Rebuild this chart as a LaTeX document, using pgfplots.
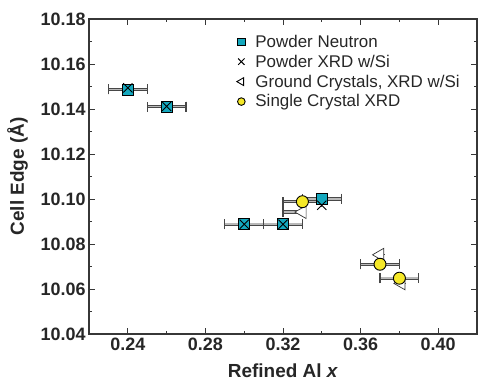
\documentclass[border=0pt]{standalone}
\usepackage{fontspec}
\setmainfont{Liberation Sans}
\usepackage{pgfplots}
\pgfplotsset{compat=1.18}
\definecolor{teal2}{RGB}{20,168,190}
\definecolor{yel}{RGB}{245,232,40}
\definecolor{axgray}{RGB}{55,55,55}
\pgfplotstableread{
x y ex
0.24 10.1487 0.01
0.26 10.1410 0.01
0.30 10.0888 0.01
0.32 10.0888 0.01
0.34 10.1000 0.01
}\neutron
\pgfplotstableread{
x y ex
0.330 10.0988 0.01
0.370 10.0710 0.01
0.380 10.0648 0.01
}\single
\pgfplotstableread{
x y exm
0.330 10.0942 0.01
0.370 10.0752 0.0
0.381 10.0625 0.0
}\ground
\pgfplotstableread{
x y
0.24 10.1494
0.26 10.1412
0.30 10.0888
0.32 10.0888
0.34 10.0972
}\xrd
\begin{document}
\begin{tikzpicture}
\path[use as bounding box] (-89bp,-48bp) rectangle (389bp,334bp);
\begin{axis}[
  at={(0,0)}, anchor=south west,
  scale only axis, width=388bp, height=315bp,
  xmin=0.22, xmax=0.42, ymin=10.04, ymax=10.18,
  xtick={0.24,0.28,0.32,0.36,0.40},
  ytick={10.04,10.06,10.08,10.10,10.12,10.14,10.16,10.18},
  minor tick num=1,
  tick align=inside,
  major tick length=6bp, minor tick length=3.5bp,
  axis line style={axgray, line width=1.1pt},
  every tick/.style={axgray, line width=1pt},
  xticklabel style={/pgf/number format/fixed, /pgf/number format/fixed zerofill, /pgf/number format/precision=2},
  yticklabel style={/pgf/number format/fixed, /pgf/number format/fixed zerofill, /pgf/number format/precision=2},
  /pgf/number format/assume math mode=true,
  ticklabel style={font=\fontsize{18}{20}\selectfont\bfseries, text=black!85},
  xlabel={Refined Al \textit{x}},
  ylabel={Cell Edge (Å)},
  xlabel shift=7bp, ylabel shift=6bp,
  label style={font=\fontsize{19}{22}\selectfont\bfseries, text=black!85},
  legend style={at={(0.362,0.963)}, anchor=north west, draw=none, fill=none,
    font=\fontsize{17}{20}\selectfont, row sep=2.2bp, text=black!85},
  legend cell align=left,
  lgimg/.style={only marks, legend image code/.code={\path (0cm,0cm) (0.72cm,0cm); \draw[##1] plot coordinates {(0.3cm,0cm)};}},
  ebdark/.style={forget plot, draw=none, mark=none, error bars/.cd, x dir=both, x explicit,
    error bar style={draw=black!72, line width=3.4pt, solid},
    error mark=|,
    error mark options={draw=black!72, line width=1.3pt, mark size=5bp}},
  eblight/.style={forget plot, draw=none, mark=none, error bars/.cd, x dir=both, x explicit,
    error bar style={draw=gray!55, line width=1.5pt, solid},
    error mark=|,
    error mark options={draw=black!72, line width=1.3pt, mark size=5bp}},
]
% legend entries
\addlegendimage{lgimg, mark=square*, mark size=3.8bp, mark options={fill=teal2, draw=black, line width=0.7pt}}
\addlegendentry{Powder Neutron}
\addlegendimage{lgimg, mark=x, mark size=4.5bp, mark options={draw=black, line width=1pt}}
\addlegendentry{Powder XRD w/Si}
\addlegendimage{lgimg, mark=triangle, mark size=4.5bp, mark options={rotate=90, draw=black, line width=0.9pt}}
\addlegendentry{Ground Crystals, XRD w/Si}
\addlegendimage{lgimg, mark=*, mark size=3.8bp, mark options={fill=yel, draw=black, line width=0.9pt}}
\addlegendentry{Single Crystal XRD}

% error bars: dark outline then light core
\addplot[ebdark] table[x=x, y=y, x error=ex] {\neutron};
\addplot[ebdark] table[x=x, y=y, x error=ex] {\single};
\addplot[forget plot, draw=none, mark=none, error bars/.cd, x dir=minus, x explicit,
    error bar style={draw=black!72, line width=3.4pt, solid}, error mark=|,
    error mark options={draw=black!72, line width=1.3pt, mark size=5bp}]
  table[x=x, y=y, x error=exm] {\ground};
\addplot[eblight] table[x=x, y=y, x error=ex] {\neutron};
\addplot[eblight] table[x=x, y=y, x error=ex] {\single};
\addplot[forget plot, draw=none, mark=none, error bars/.cd, x dir=minus, x explicit,
    error bar style={draw=gray!55, line width=1.5pt, solid}, error mark=|,
    error mark options={draw=black!72, line width=1.3pt, mark size=5bp}]
  table[x=x, y=y, x error=exm] {\ground};

% triangles (ground crystals)
\addplot[forget plot, only marks, mark=triangle*, mark size=7.5bp,
  mark options={rotate=90, fill=white, draw=black!80, line width=0.7pt}]
  table[x=x, y=y] {\ground};
% circles (single crystal)
\addplot[forget plot, only marks, mark=*, mark size=6bp,
  mark options={fill=yel, draw=black, line width=0.9pt}]
  table[x=x, y=y] {\single};
% squares (powder neutron)
\addplot[forget plot, only marks, mark=square*, mark size=5.5bp,
  mark options={fill=teal2, draw=black, line width=0.8pt}]
  table[x=x, y=y] {\neutron};
% crosses (powder XRD)
\addplot[forget plot, only marks, mark=x, mark size=6.5bp,
  mark options={draw=black, line width=0.9pt}]
  table[x=x, y=y] {\xrd};
\end{axis}
\end{tikzpicture}
\end{document}
